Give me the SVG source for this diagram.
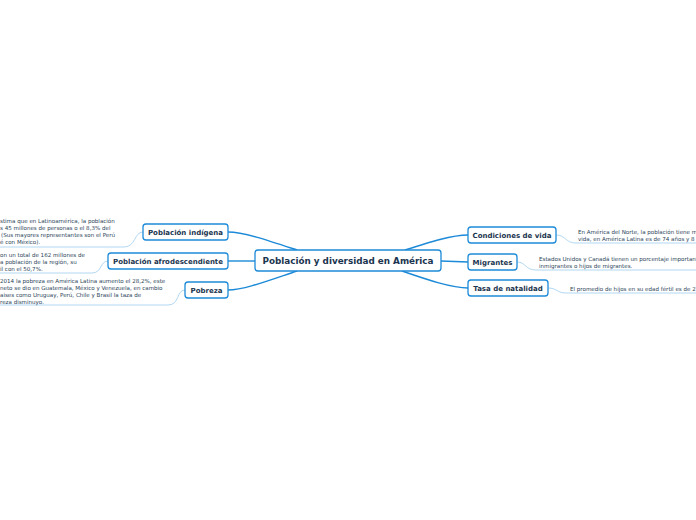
<svg xmlns="http://www.w3.org/2000/svg" width="696" height="520" viewBox="0 0 696 520">
<style>
.bg{fill:#ffffff}
.node rect{fill:#ffffff;stroke:#1c8ad8;stroke-width:1.3}
.lbl{font-family:"DejaVu Sans",Verdana,sans-serif;font-weight:bold;fill:#1b3550;font-size:7px;text-anchor:middle}
.main{font-size:8.8px}
.note{font-family:"DejaVu Sans",Verdana,sans-serif;font-size:5.55px;fill:#2b3f58}
.conn path{fill:none;stroke:#1c8ad8;stroke-width:1.4}
.nconn path{fill:none;stroke:#a9d3f0;stroke-width:0.9}
</style>
<rect class="bg" width="696" height="520"/>
<g id="connectors" class="conn">
<path d="M228,232 C244,232 270,241 297,250"/>
<path d="M228,261 L255,261"/>
<path d="M228,290 C244,290 270,280 297,271"/>
<path d="M468,235 C452,235 430,242 405,250"/>
<path d="M468,262 L441,261"/>
<path d="M468,288 C452,288 428,280 402,271"/>
</g>
<g id="note-connectors" class="nconn">
<path d="M143,232 C134,232 136,247 124,247 L0,247"/>
<path d="M108,261 C100,261 102,273 92,273 L0,273"/>
<path d="M185,290 C176,290 180,305 168,305 L0,305"/>
<path d="M556,235 C566,235 565,243 576,243 L696,243"/>
<path d="M517,262 C526,262 525,270 536,270 L696,270"/>
<path d="M548,288 C557,288 557,293 566,293 L696,293"/>
</g>
<g id="central" class="node">
<rect x="255" y="250" width="186" height="21" rx="3"/>
<text class="lbl main" x="348" y="264">Población y diversidad en América</text>
</g>
<g id="poblacion-indigena" class="node">
<rect x="143" y="224" width="85" height="16" rx="3"/>
<text class="lbl" x="185.5" y="234.5">Población indígena</text>
</g>
<g id="poblacion-afro" class="node">
<rect x="108" y="253" width="120" height="16" rx="3"/>
<text class="lbl" x="168" y="263.5">Población afrodescendiente</text>
</g>
<g id="pobreza" class="node">
<rect x="185" y="282" width="43" height="16" rx="3"/>
<text class="lbl" x="206.5" y="292.5">Pobreza</text>
</g>
<g id="condiciones" class="node">
<rect x="468" y="227" width="88" height="16" rx="3"/>
<text class="lbl" x="512" y="237.5">Condiciones de vida</text>
</g>
<g id="migrantes" class="node">
<rect x="468" y="254" width="49" height="16" rx="3"/>
<text class="lbl" x="492.5" y="264.5">Migrantes</text>
</g>
<g id="natalidad" class="node">
<rect x="468" y="280" width="80" height="16" rx="3"/>
<text class="lbl" x="508" y="290.5">Tasa de natalidad</text>
</g>
<g id="notes">
<text class="note" x="0" y="223">stima que en Latinoamérica, la población</text>
<text class="note" x="0" y="230">s 45 millones de personas o  el 8,3% del</text>
<text class="note" x="1" y="237">(Sus mayores representantes son el Perú</text>
<text class="note" x="0" y="244">é con México).</text>
<text class="note" x="0" y="257">on un total de 162 millones de</text>
<text class="note" x="0" y="264">a población de la región, su</text>
<text class="note" x="0" y="271">il con el 50,7%.</text>
<text class="note" x="0" y="283">2014 la pobreza en América Latina aumento el 28,2%, este</text>
<text class="note" x="0" y="290">neto se dio en Guatemala, México y Venezuela, en cambio</text>
<text class="note" x="0" y="297">aises como Uruguay, Perú, Chile y Brasil la taza de</text>
<text class="note" x="0" y="304">reza disminuyo.</text>
<text class="note" x="578" y="234">En América del Norte, la población tiene m</text>
<text class="note" x="578" y="241">vida, en América Latina es de 74 años y 8</text>
<text class="note" x="539" y="261">Estados Unidos y Canadá tienen un porcentaje important</text>
<text class="note" x="539" y="268">inmigrantes o hijos de migrantes.</text>
<text class="note" x="570" y="290.5">El promedio de hijos en su edad fértil es de 2</text>
</g>
</svg>
